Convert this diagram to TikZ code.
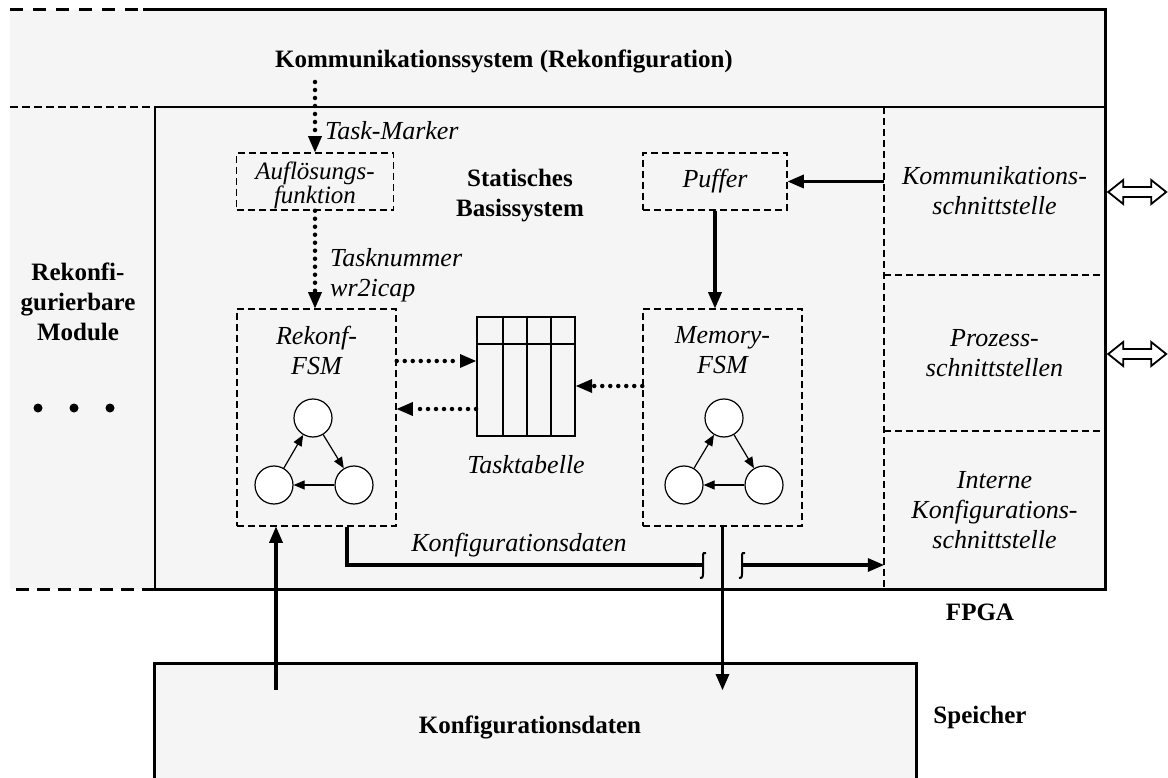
\documentclass[tikz,border=0pt]{standalone}
\usepackage{fontspec}
\setmainfont{Liberation Serif}
\usetikzlibrary{arrows.meta,calc}
\begin{document}
\begin{tikzpicture}[x=1pt,y=-1pt,
  lbl/.style={font=\fontsize{26}{30}\selectfont\itshape, align=center, inner sep=0},
  blbl/.style={font=\fontsize{25}{30}\selectfont\bfseries, align=center, inner sep=0},
  dbox/.style={draw, line width=1.5pt, dash pattern=on 7pt off 4pt, inner sep=0},
  dsh/.style={line width=1.5pt, dash pattern=on 7pt off 4pt},
  region/.style={inner sep=0, minimum width=221},
  arr/.style={line width=3.5pt, -{Triangle[length=16pt,width=14pt,line width=0pt]}},
  dotarr/.style={line width=4.5pt, line cap=round, dash pattern=on 0pt off 8pt, -{Triangle[length=16pt,width=14pt,line width=0pt]}},
  state/.style={circle, draw, fill=white, line width=1.2pt, minimum size=38, inner sep=0},
  trans/.style={line width=1.2pt, -{Triangle[length=11pt,width=9pt]}},
  hook/.style={line width=2pt},
  bg/.style={fill=black!4},
  dblarrow/.style={line width=1.8pt, fill=white, line join=miter}
]
\useasboundingbox (0,0) rectangle (1168,778);
\clip (0,0) rectangle (1168,778);

% shaded FPGA area
\fill[bg] (10,10) rectangle (1105,589);

% memory block below the FPGA
\node[draw, line width=3pt, bg, minimum width=762, minimum height=140, anchor=north west, inner sep=0] (spei) at (153,662) {};
\node[blbl] (speilbl) at (530,727) {Konfigurationsdaten};

% FPGA frame
\draw[line width=3pt, dash pattern=on 13pt off 10pt] (10,10) -- (143,10);
\draw[line width=3pt] (143,10) -- (1105,10) -- (1105,589) -- (155,589);
\draw[line width=3pt, dash pattern=on 13pt off 8pt] (155,589) -- (10,589);
\draw[line width=2pt, dash pattern=on 8pt off 4pt] (10,107) -- (155,107);
\draw[line width=2pt] (1105,107) -- (155,107) -- (155,589);

% interface column
\draw[dsh] (884,107) -- (884,589);
\draw[dsh] (884,275) -- (1105,275);
\draw[dsh] (884,431) -- (1105,431);
\node[region, lbl, minimum height=168] (ikomm) at (994.5,191) {Kommunikations-\\schnittstelle};
\node[region, lbl, minimum height=156] (iproz) at (994.5,353) {Prozess-\\schnittstellen};
\node[region, lbl, minimum height=157] (iint) at (994.5,510) {Interne\\Konfigurations-\\schnittstelle};

% external interface arrows
\foreach \r in {ikomm,iproz}
  \draw[dblarrow] ($(\r.east)+(3,1)$) -- ++(15,-12) -- ++(0,7) -- ++(28,0) -- ++(0,-7)
    -- ++(15,12) -- ++(-15,12) -- ++(0,-7) -- ++(-28,0) -- ++(0,7) -- cycle;

% titles
\node[blbl] (kom) at (504,61) {Kommunikationssystem (Rekonfiguration)};
\node[blbl] (basis) at (520,196) {Statisches\\Basissystem};
\node[blbl] (modules) at (78,302) {Rekonfi-\\gurierbare\\Module};
\foreach \x in {38,74,110} \fill (\x,408) circle (4.5);
\node[blbl] (fpga) at (980,612) {FPGA};
\node[blbl] (speicher) at (980,717) {Speicher};

% function blocks
\node[dbox, minimum width=157, minimum height=57] (aufl) at (315,181.5) {};
\node[lbl, font=\fontsize{25}{24}\selectfont\itshape] (aufllbl) at (315,185) {Auflösungs-\\funktion};
\node[dbox, lbl, minimum width=144, minimum height=57] (puf) at (715,181.5) {Puffer};
\node[dbox, minimum width=159, minimum height=217] (rek) at (316.5,417.5) {};
\node[lbl] (reklbl) at (316.5,350) {Rekonf-\\FSM};
\node[dbox, minimum width=159, minimum height=217] (mem) at (722.5,417.5) {};
\node[lbl] (memlbl) at (722.5,350) {Memory-\\FSM};

% state machines
\node[state] (r1) at (313,418) {};
\node[state] (r2) at (354,485) {};
\node[state] (r3) at (274,485) {};
\draw[trans] (r1) -- (r2);
\draw[trans] (r2) -- (r3);
\draw[trans] (r3) -- (r1);
\node[state] (m1) at (724,418) {};
\node[state] (m2) at (764,485) {};
\node[state] (m3) at (684,485) {};
\draw[trans] (m1) -- (m2);
\draw[trans] (m2) -- (m3);
\draw[trans] (m3) -- (m1);

% task table
\node[draw, line width=2pt, minimum width=98, minimum height=119, inner sep=0] (tab) at (526,376.5) {};
\draw[line width=2pt] (477,344) -- (575,344);
\foreach \x in {503,527,551} \draw[line width=2pt] (\x,317) -- (\x,436);
\node[lbl] (tablbl) at (526,465) {Tasktabelle};

% signal labels
\node[lbl, anchor=west] (tm) at (325,131) {Task-Marker};
\node[lbl, anchor=west, align=left] (tn) at (330,275) {Tasknummer\\wr2icap};
\node[lbl] (kd) at (519,545) {Konfigurationsdaten};

% connectors
\coordinate (ktop) at (315,82);
\draw[dotarr] (ktop) -- (aufl.north);
\draw[dotarr] (aufl.south) -- (aufl.south |- rek.north);
\draw[arr] (ikomm.west |- puf.east) -- (puf.east);
\draw[arr] (puf.south) -- (puf.south |- mem.north);

\coordinate (ya) at (0,361);
\coordinate (yb) at (0,409);
\coordinate (yc) at (0,386);
\draw[dotarr] (rek.east |- ya) -- (tab.west |- ya);
\draw[dotarr] (tab.west |- yb) -- (rek.east |- yb);
\draw[dotarr] (mem.west |- yc) -- (tab.east |- yc);

% configuration data path with line crossing
\coordinate (k0) at (347,0);
\coordinate (b1) at (703,565);
\coordinate (b2) at (742,565);
\draw[line width=3.5pt] (rek.south -| k0) |- (b1);
\foreach \b in {b1,b2}
  \draw[hook] ($(\b)+(-3,13)$) .. controls ($(\b)+(-1,14)$) and ($(\b)+(0,12)$) .. ($(\b)+(0,9)$)
    -- ($(\b)+(0,-9)$) .. controls ($(\b)+(0,-12)$) and ($(\b)+(1,-13)$) .. ($(\b)+(3,-12)$);
\draw[arr] (b2) -- (iint.west |- b2);

% memory links
\draw[arr] (mem.south) -- ($(mem.south |- spei.north)+(0,28)$);
\coordinate (s1) at (276,0);
\draw[arr] ($(spei.north -| s1)+(0,28)$) -- (rek.south -| s1);
\end{tikzpicture}
\end{document}
